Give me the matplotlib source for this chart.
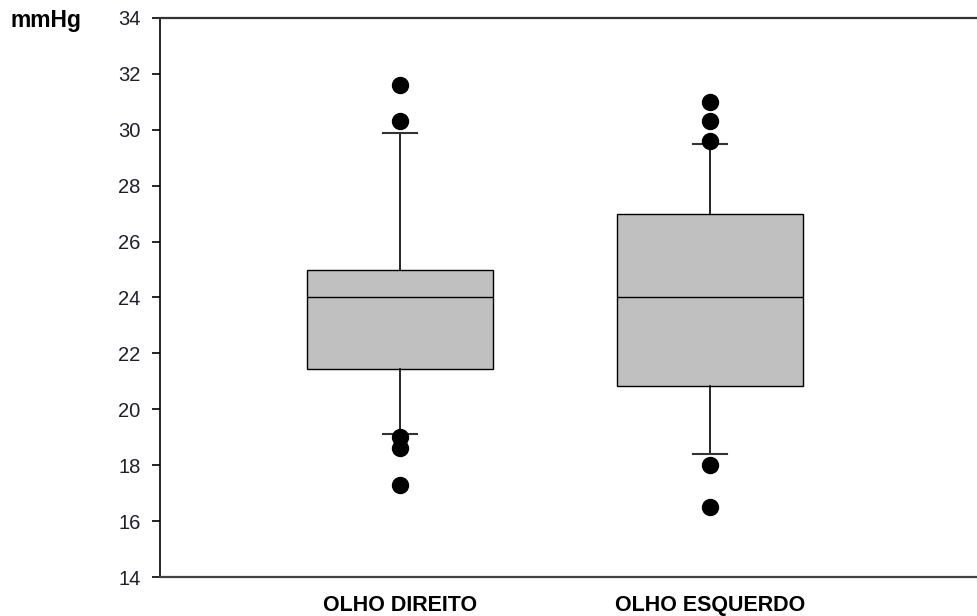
import matplotlib.pyplot as plt

plt.rcParams['font.family'] = ['Liberation Sans', 'DejaVu Sans']

groups = ['OLHO DIREITO', 'OLHO ESQUERDO']
q1 = [21.45, 20.85]
med = [24.0, 24.0]
q3 = [25.0, 27.0]
whislo = [19.1, 18.4]
whishi = [29.9, 29.5]
fliers = [[31.6, 30.3, 19.0, 18.6, 17.3],
          [31.0, 30.3, 29.6, 18.0, 16.5]]

stats = []
for i in range(len(groups)):
    stats.append(dict(label=groups[i], q1=q1[i], med=med[i], q3=q3[i],
                      whislo=whislo[i], whishi=whishi[i], fliers=fliers[i]))

fig = plt.figure(figsize=(9.77, 6.16), dpi=100)
ax = fig.add_axes([0.1638, 0.0633, 0.8362, 0.9075])

ax.bxp(stats, positions=[1, 2], widths=0.6, capwidths=0.11,
       patch_artist=True, showfliers=True,
       boxprops=dict(facecolor='#c0c0c0', edgecolor='black', linewidth=1.0),
       medianprops=dict(color='black', linewidth=1.0),
       whiskerprops=dict(color='black', linewidth=1.2),
       capprops=dict(color='#333333', linewidth=1.5),
       flierprops=dict(marker='o', markerfacecolor='black', markeredgecolor='black',
                       markersize=11.5))

ax.set_xlim(0.226, 2.86)
ax.set_ylim(14, 34)
ax.set_yticks(range(14, 35, 2))

ax.spines['right'].set_visible(False)
ax.spines['left'].set_linewidth(1.2)
ax.spines['top'].set_color('#333333')
ax.spines['top'].set_linewidth(1.6)
ax.spines['bottom'].set_color('#444444')
ax.spines['bottom'].set_linewidth(1.6)

ax.tick_params(axis='y', direction='out', length=6, width=1.2, pad=8,
               labelsize=14.5, labelcolor='#1e1e2e')
ax.tick_params(axis='x', length=0, pad=13)
for lab in ax.get_xticklabels():
    lab.set_fontsize(15.5)
    lab.set_fontweight('bold')

fig.text(10 / 977, 1 - 20 / 616, 'mmHg', fontsize=16.5, fontweight='bold',
         ha='left', va='center')

fig.savefig('out.png', dpi=100)
